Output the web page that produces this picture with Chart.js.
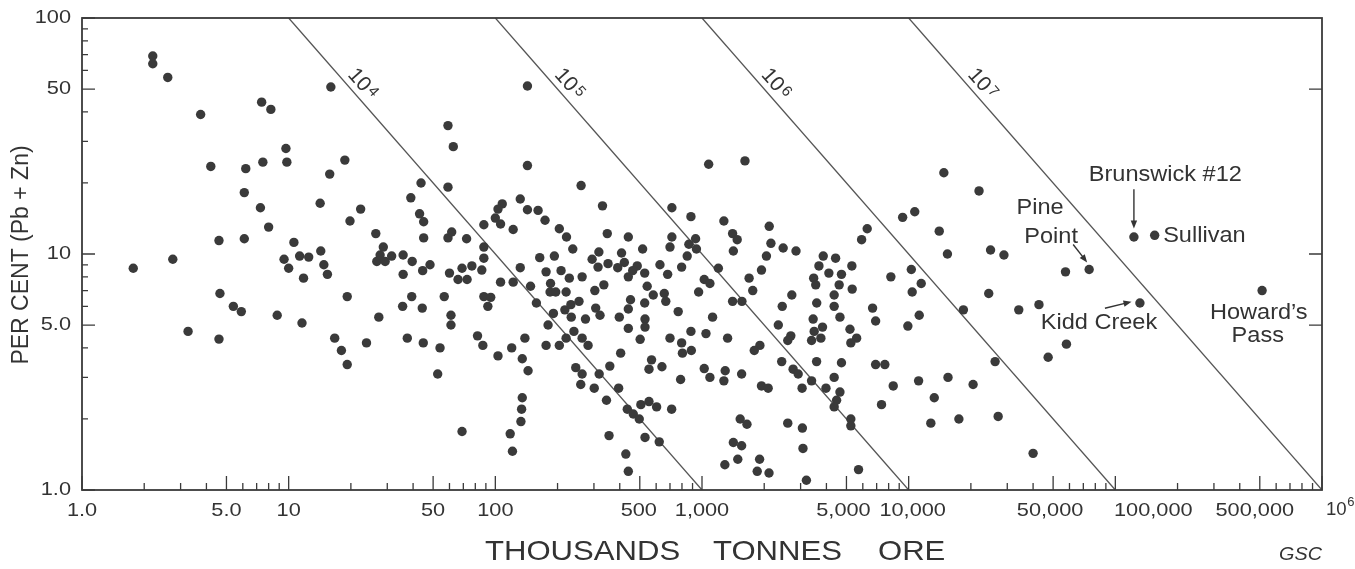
<!DOCTYPE html>
<html>
<head>
<meta charset="utf-8">
<script src="https://cdn.jsdelivr.net/npm/chart.js@4.4.1/dist/chart.umd.min.js"></script>
<style>
  html, body { margin: 0; padding: 0; background: #ffffff; }
  canvas { display: block; }
</style>
</head>
<body>
<canvas id="chart" width="1355" height="569"></canvas>
<script>
// ---------------- DATA ----------------
// [ore tonnage (thousand tonnes), grade (% Pb + Zn)] for unlabelled deposits
const depositPoints = [
  [2.2,69],[2.2,64],[2.6,56],[3.75,39],[4.2,23.5],[6.2,23],[6.1,18.2],[7.3,15.7],[8.0,13],[6.1,11.6],
  [4.6,11.4],[7.4,44],[8.2,41],[9.7,28],[9.8,24.5],[7.5,24.5],[16,51],[18.7,25],[15.8,21.8],[14.2,16.4],
  [22.3,15.5],[19.8,13.8],[26.4,12.2],[28.7,10.7],[39,17.3],[43.7,20],[43,14.8],[45,13.7],[45,11.7],[59,35],
  [59,19.2],[59,11.7],[62.6,28.5],[10.6,11.2],[14.3,10.3],
  [1.77,8.7],[2.75,9.5],[3.26,4.7],[4.6,4.36],[4.65,6.8],[5.4,6.0],[5.9,5.7],[8.8,5.5],[9.5,9.5],[10,8.7],
  [11.3,9.8],[12.5,9.7],[11.8,7.9],[11.6,5.1],[14.8,9.0],[15.4,8.2],[19.2,6.6],[16.7,4.4],[18,3.9],[19.2,3.4],
  [23.8,4.2],[27.3,5.4],[26.7,9.3],[27.7,9.9],[29.3,9.3],[31.5,9.8],[35.8,9.9],[35.8,8.2],[39.6,9.3],[35.6,6.0],
  [39.4,6.6],[37.5,4.4],[44.5,8.5],[48.3,9.0],[44.3,5.9],[44.8,4.2],[56.6,6.6],[54,4.0],[52.6,3.1],[60,8.3],
  [61,5.5],[61,5.0],
  [143,51.5],[143,23.7],[260,19.5],[132,17.1],[108,16.3],[103,15.5],[143,15.4],[161,15.3],[174,13.9],[100,14.2],
  [106,13.4],[88,13.3],[122,12.7],[330,16],[204,12.8],[221,11.8],[237,10.5],[440,11.8],[348,12.2],[516,10.5],
  [715,15.7],[884,14.4],[1077,24],[1276,13.8],[715,11.8],[700,10.7],[931,11.6],[864,11],[940,10.5],[848,9.8],
  [797,8.8],[1200,8.7],[1025,7.8],[1092,7.5],[963,6.9],[626,9.0],[682,8.2],[657,6.8],[581,6.7],[543,7.3],
  [528,8.3],[486,8.9],[462,8.5],[440,8.0],[421,9.2],[408,10.1],[391,8.75],[351,9.1],[317,10.2],[294,9.5],
  [314,8.8],[335,7.4],[303,7.0],[263,8.0],[228,7.9],[208,8.5],[193,9.8],[164,9.65],[176,8.4],[185,7.5],
  [184,6.9],[196,6.9],[220,6.9],[148,7.3],[132,8.75],[122,7.6],[106,7.6],[88,10.7],[88,9.6],[86,8.55],
  [77,8.9],[69,8.7],[72.6,11.6],[61.5,12.4],[66,7.8],[73,7.8],[88,6.6],[95,6.55],
  [92,6.0],[82,4.5],[87,4.1],[103,3.7],[120,4.0],[139,4.4],[135,3.6],[144,3.2],[135,2.46],[134,2.2],
  [133,1.95],[69,1.77],[118,1.73],[121,1.46],[158,6.2],[191,5.6],[180,5.0],[176,4.1],[204,4.1],[220,4.4],
  [240,4.7],[263,4.4],[281,4.1],[217,5.8],[232,6.1],[254,6.3],[233,5.4],[273,5.3],[306,5.9],[321,5.5],
  [245,3.3],[263,3.1],[259,2.8],[301,2.7],[318,3.1],[358,3.35],[404,3.8],[345,2.4],[395,2.7],[435,2.2],
  [465,2.1],[497,2.0],[506,2.3],[554,2.37],[603,2.25],[713,2.2],[355,1.7],[530,1.67],[621,1.6],[428,1.42],
  [440,1.2],[398,5.4],[440,5.85],[451,6.4],[440,4.84],[528,6.2],[530,5.3],[530,4.9],[502,4.35],[668,6.3],
  [767,5.7],[1125,5.4],[700,4.4],[797,4.2],[884,4.7],[804,3.8],[888,3.9],[1045,4.6],[1330,4.4],[570,3.56],
  [554,3.25],[640,3.33],[788,2.94],[1025,3.27],[1092,3.0],[1276,2.9],[1295,3.2],[1290,1.28],
  [1614,24.8],[14800,22.1],[21900,18.5],[9350,14.3],[10700,15.1],[14060,12.5],[15400,10],[24900,10.4],[28900,9.9],[24400,6.8],
  [6300,12.8],[5920,11.5],[8200,8.0],[10300,8.6],[11500,7.5],[10400,6.9],[2115,13.1],[1406,12.2],[1480,11.5],[1418,10.3],
  [2155,11.1],[2470,10.6],[2850,10.3],[2050,9.8],[1940,8.55],[1690,7.9],[1760,7.0],[2720,6.7],[3860,9.8],[4430,9.6],
  [3680,8.9],[5310,8.9],[4110,8.3],[4730,8.2],[3470,7.9],[3550,7.4],[4610,7.4],[5330,7.1],[4360,6.7],[3590,6.2],
  [4360,6.0],[2445,6.0],[6690,5.9],[1406,6.3],[1560,6.3],[18400,5.8],[34100,5.8],[42700,6.1],
  [4650,5.4],[3450,5.3],[3830,4.9],[3490,4.7],[3760,4.4],[3390,4.3],[5200,4.8],[5600,4.4],[5250,4.2],[6920,5.2],
  [9910,4.95],[11250,5.5],[2340,5.0],[2690,4.5],[2600,4.3],[1906,4.1],[1790,3.9],[2430,3.5],[2760,3.25],[2920,3.1],
  [3585,3.5],[4730,3.46],[6920,3.4],[7670,3.4],[1555,3.1],[1940,2.76],[2090,2.7],[3390,2.9],[3050,2.7],[3980,2.7],
  [4360,3.0],[4650,2.6],[4480,2.4],[4360,2.25],[5250,2.0],[5250,1.87],[8420,2.76],[7390,2.3],[11170,2.9],[13300,2.46],
  [15500,3.0],[20500,2.8],[26200,3.5],[12800,1.92],[17500,2.0],[27100,2.05],[40000,1.43],[1530,2.0],[1650,1.9],[2600,1.92],
  [3060,1.83],[1418,1.59],[1555,1.54],[3080,1.5],[1490,1.35],[1900,1.35],[1850,1.2],[2110,1.18],[3200,1.1],[5720,1.22],
  [57400,8.4],[58000,4.15],[47300,3.65]
];

// Named deposits
const namedDeposits = ['Pine Point', 'Brunswick #12', 'Sullivan', 'Kidd Creek', 'Howard\u2019s Pass'];
const namedOre      = [74700, 123000, 155000, 131500, 513000];
const namedGrade    = [8.6, 11.8, 12.0, 6.2, 7.0];

// Lines of equal contained metal (tonnes Pb + Zn = 10^n)
const metalLineExponents = [4, 5, 6, 7];

// Axis labels
const xLabelValues = [1, 5, 10, 50, 100, 500, 1000, 5000, 10000, 50000, 100000, 500000];
const xLabelTexts  = ['1.0', '5.0', '10', '50', '100', '500', '1,000', '5,000', '10,000', '50,000', '100,000', '500,000'];
const xEndLabel    = ['10', '6'];          // 10^6 at the right end of the axis
const yLabelValues = [1, 5, 10, 50, 100];
const yLabelTexts  = ['1.0', '5.0', '10', '50', '100'];
const xTitleWords  = ['THOUSANDS', 'TONNES', 'ORE'];
const yTitle       = 'PER CENT (Pb + Zn)';
const creditText   = 'GSC';

// ---------------- STYLE / LAYOUT ----------------
const FONT = '"Liberation Sans", Arial, Helvetica, sans-serif';
const TEXT = '#333333';
const AXIS = '#3a3a3a';
const DOT  = '#3a3a3a';
const TICK_FONT = 18.6, TICK_STRETCH = 1.17;
// horizontal nudges (px) of some x labels, as set in the original figure
const xLabelNudge = [0, 0, 0, 0, 0, -1, 0, -3, 4, -3, 38, -5];

function decadeTicks(lo, hi) {
  const out = [];
  for (let e = lo; e < hi; e++) {
    for (let m = 1; m <= 9; m++) out.push(m * Math.pow(10, e));
  }
  out.push(Math.pow(10, hi));
  return out;
}
const xTickValues = decadeTicks(0, 6);
const yTickValues = decadeTicks(0, 2);
const isIn = (arr, v) => arr.some(a => Math.abs(a - v) / a < 1e-9);

const annotationLayout = {
  'Pine Point':        { lines: [['Pine', -49, -61.5, 'center'], ['Point', -38, -33, 'center']], arrow: [-16, -25, -2, -7] },
  'Brunswick #12':     { lines: [['Brunswick #12', 31.4, -62.5, 'center']], arrow: [0, -47.7, 0, -8.5] },
  'Sullivan':          { lines: [['Sullivan', 8.5, 0.6, 'left']] },
  'Kidd Creek':        { lines: [['Kidd Creek', -40.9, 19.5, 'center']], arrow: [-35, 5.3, -8.4, -1.3] },
  'Howard\u2019s Pass':{ lines: [['Howard\u2019s', -3.3, 22, 'center'], ['Pass', -4.3, 45.5, 'center']] }
};

function stretchedText(ctx, text, x, y, size, align, sx, style) {
  ctx.save();
  ctx.translate(x, y);
  ctx.scale(sx, 1);
  ctx.font = (style ? style + ' ' : '') + size + 'px ' + FONT;
  ctx.textAlign = align;
  ctx.textBaseline = 'middle';
  ctx.fillStyle = TEXT;
  ctx.fillText(text, 0, 0);
  ctx.restore();
}

function arrow(ctx, x0, y0, x1, y1) {
  const ang = Math.atan2(y1 - y0, x1 - x0);
  const hl = 8, hw = 3.2;
  ctx.beginPath();
  ctx.moveTo(x0, y0);
  ctx.lineTo(x1 - Math.cos(ang) * hl * 0.6, y1 - Math.sin(ang) * hl * 0.6);
  ctx.stroke();
  ctx.beginPath();
  ctx.moveTo(x1, y1);
  ctx.lineTo(x1 - Math.cos(ang) * hl - Math.sin(ang) * hw, y1 - Math.sin(ang) * hl + Math.cos(ang) * hw);
  ctx.lineTo(x1 - Math.cos(ang) * hl + Math.sin(ang) * hw, y1 - Math.sin(ang) * hl - Math.cos(ang) * hw);
  ctx.closePath();
  ctx.fill();
}

const decorPlugin = {
  id: 'decor',
  afterDatasetsDraw(chart) {
    const { ctx, chartArea: a } = chart;
    const x = chart.scales.x, y = chart.scales.y;
    ctx.save();

    // frame
    ctx.strokeStyle = AXIS;
    ctx.lineWidth = 1.8;
    ctx.strokeRect(a.left, a.top, a.right - a.left, a.bottom - a.top);

    // inward tick marks
    ctx.lineWidth = 1.3;
    ctx.beginPath();
    xTickValues.forEach(v => {
      const px = x.getPixelForValue(v);
      const len = (isIn(xLabelValues, v) || v === 1e6) ? 14 : 7;
      ctx.moveTo(px, a.bottom);
      ctx.lineTo(px, a.bottom - len);
    });
    yTickValues.forEach(v => {
      const py = y.getPixelForValue(v);
      const major = isIn(yLabelValues, v);
      const len = major ? 13 : 6;
      ctx.moveTo(a.left, py);
      ctx.lineTo(a.left + len, py);
      if (major && v > 1 && v < 100) {
        ctx.moveTo(a.right, py);
        ctx.lineTo(a.right - len, py);
      }
    });
    ctx.stroke();

    // tick labels, placed through the scales
    xLabelValues.forEach((v, i) => {
      stretchedText(ctx, xLabelTexts[i], x.getPixelForValue(v) + xLabelNudge[i], 511, TICK_FONT, 'center', TICK_STRETCH);
    });
    yLabelValues.forEach((v, i) => {
      stretchedText(ctx, yLabelTexts[i], a.left - 11, y.getPixelForValue(v), TICK_FONT, 'right', TICK_STRETCH);
    });

    // 10^6 label at the right end of the x axis
    const endX = x.getPixelForValue(1e6) + 4;
    ctx.font = TICK_FONT + 'px ' + FONT;
    const wEnd = ctx.measureText(xEndLabel[0]).width;
    stretchedText(ctx, xEndLabel[0], endX, 510, TICK_FONT, 'left', 1);
    stretchedText(ctx, xEndLabel[1], endX + wEnd + 0.5, 502, 13, 'left', 1);

    // labels of the equal-metal lines
    ctx.fillStyle = TEXT;
    metalLineExponents.forEach(e => {
      const metalKt = Math.pow(10, e) / 1000;
      const x0 = x.getPixelForValue(metalKt), y0 = y.getPixelForValue(100);
      const x1 = x.getPixelForValue(metalKt * 100), y1 = y.getPixelForValue(1);
      const th = Math.atan2(y1 - y0, x1 - x0);
      const ax = x.getPixelForValue(metalKt * 2), ay = y.getPixelForValue(50);
      const dx = Math.cos(th), dy = Math.sin(th), nx = Math.sin(th), ny = -Math.cos(th);
      const cx = ax + nx * 13 + dx * 4, cy = ay + ny * 13 + dy * 4;
      ctx.save();
      ctx.translate(cx, cy);
      ctx.rotate(th);
      ctx.textBaseline = 'middle';
      ctx.textAlign = 'left';
      ctx.font = '21px ' + FONT;
      const w1 = ctx.measureText('10').width;
      ctx.font = '15px ' + FONT;
      const w2 = ctx.measureText(String(e)).width;
      const start = -(w1 + 2 + w2) / 2;
      ctx.font = '21px ' + FONT;
      ctx.fillText('10', start, 1);
      ctx.font = '15px ' + FONT;
      ctx.fillText(String(e), start + w1 + 2, -2);
      ctx.restore();
    });

    // named deposit annotations
    ctx.strokeStyle = TEXT;
    ctx.fillStyle = TEXT;
    ctx.lineWidth = 1.4;
    namedDeposits.forEach((name, i) => {
      const lay = annotationLayout[name];
      if (!lay) return;
      const px = x.getPixelForValue(namedOre[i]);
      const py = y.getPixelForValue(namedGrade[i]);
      lay.lines.forEach(([t, ox, oy, al]) => stretchedText(ctx, t, px + ox, py + oy, 22, al, 1.07));
      if (lay.arrow) {
        const [ax0, ay0, ax1, ay1] = lay.arrow;
        arrow(ctx, px + ax0, py + ay0, px + ax1, py + ay1);
      }
    });

    // axis titles
    const titleX = [485, 713, 878];
    xTitleWords.forEach((w, i) => stretchedText(ctx, w, titleX[i], 552, 28, 'left', 1.11));
    ctx.save();
    ctx.translate(22, 255);
    ctx.rotate(-Math.PI / 2);
    ctx.font = '23px ' + FONT;
    ctx.textAlign = 'center';
    ctx.textBaseline = 'middle';
    ctx.fillStyle = TEXT;
    ctx.fillText(yTitle, 0, 0);
    ctx.restore();

    // credit
    stretchedText(ctx, creditText, a.right, 555, 18, 'right', 1.1, 'italic');

    ctx.restore();
  }
};

// ---------------- CHART ----------------
const metalLineDatasets = metalLineExponents.map(e => {
  const metalKt = Math.pow(10, e) / 1000;      // thousand tonnes of metal
  return {
    type: 'scatter',
    showLine: true,
    data: [{ x: metalKt, y: 100 }, { x: metalKt * 100, y: 1 }],
    borderColor: '#555555',
    borderWidth: 1.3,
    pointRadius: 0,
    fill: false,
    order: 2
  };
});

const dotStyle = {
  pointRadius: 4.7,
  pointBackgroundColor: DOT,
  pointBorderWidth: 0,
  pointHoverRadius: 4.7,
  order: 1
};

new Chart(document.getElementById('chart'), {
  type: 'scatter',
  data: {
    datasets: [
      Object.assign({ label: 'Deposits', data: depositPoints.map(([ore, g]) => ({ x: ore, y: g })) }, dotStyle),
      Object.assign({ label: 'Named deposits', data: namedOre.map((ore, i) => ({ x: ore, y: namedGrade[i] })) }, dotStyle),
      ...metalLineDatasets
    ]
  },
  options: {
    responsive: false,
    animation: false,
    events: [],
    layout: { padding: { top: 18, right: 33, left: 0, bottom: 0 } },
    plugins: { legend: { display: false }, tooltip: { enabled: false } },
    scales: {
      x: {
        type: 'logarithmic',
        position: 'bottom',
        min: 1,
        max: 1e6,
        afterBuildTicks: s => { s.ticks = xTickValues.map(v => ({ value: v })); },
        afterFit: s => { s.height = 79; s.paddingLeft = 0; s.paddingRight = 0; },
        grid: { display: false, drawTicks: false },
        border: { display: false },
        ticks: { display: false, autoSkip: false, maxRotation: 0, minRotation: 0 }
      },
      y: {
        type: 'logarithmic',
        position: 'left',
        min: 1,
        max: 100,
        afterBuildTicks: s => { s.ticks = yTickValues.map(v => ({ value: v })); },
        afterFit: s => { s.width = 82; s.paddingTop = 0; s.paddingBottom = 0; },
        grid: { display: false, drawTicks: false },
        border: { display: false },
        ticks: { display: false, autoSkip: false }
      }
    }
  },
  plugins: [decorPlugin]
});
</script>
</body>
</html>
